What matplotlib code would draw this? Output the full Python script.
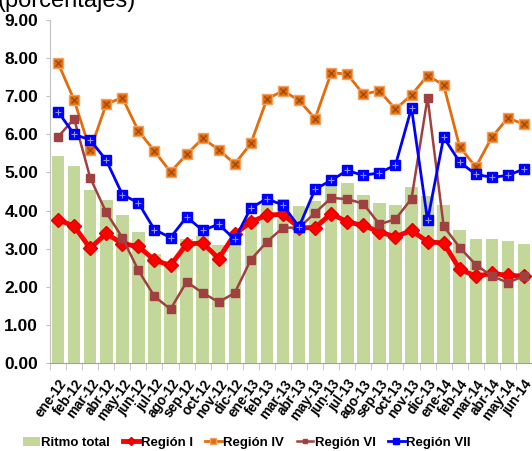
import matplotlib.pyplot as plt
import matplotlib.transforms as mtransforms
import numpy as np

plt.rcParams['font.family'] = ['Liberation Sans', 'DejaVu Sans']

# meses
meses = ['ene-12', 'feb-12', 'mar-12', 'abr-12', 'may-12', 'jun-12', 'jul-12', 'ago-12',
         'sep-12', 'oct-12', 'nov-12', 'dic-12', 'ene-13', 'feb-13', 'mar-13', 'abr-13',
         'may-13', 'jun-13', 'jul-13', 'ago-13', 'sep-13', 'oct-13', 'nov-13', 'dic-13',
         'ene-14', 'feb-14', 'mar-14', 'abr-14', 'may-14', 'jun-14']

ritmo_total = [5.43, 5.16, 4.55, 4.27, 3.88, 3.44, 2.85, 2.60, 3.26, 3.33, 3.09, 3.20,
               3.83, 4.18, 4.31, 4.11, 4.25, 4.75, 4.73, 4.42, 4.20, 4.14, 4.62, 4.37,
               4.14, 3.50, 3.25, 3.26, 3.19, 3.12]
region_1 = [3.76, 3.59, 3.01, 3.40, 3.13, 3.06, 2.70, 2.56, 3.12, 3.15, 2.74, 3.38,
            3.70, 3.88, 3.90, 3.55, 3.55, 3.92, 3.70, 3.61, 3.44, 3.31, 3.48, 3.18,
            3.15, 2.46, 2.28, 2.35, 2.30, 2.28]
region_4 = [7.87, 6.90, 5.58, 6.79, 6.96, 6.09, 5.56, 5.01, 5.47, 5.89, 5.60, 5.22,
            5.76, 6.92, 7.14, 6.89, 6.41, 7.61, 7.58, 7.05, 7.14, 6.66, 7.03, 7.54,
            7.29, 5.67, 5.14, 5.92, 6.43, 6.26]
region_6 = [5.93, 6.41, 4.86, 3.95, 3.29, 2.43, 1.75, 1.41, 2.13, 1.84, 1.60, 1.84,
            2.71, 3.18, 3.55, 3.55, 3.94, 4.33, 4.30, 4.18, 3.64, 3.77, 4.31, 6.96,
            3.59, 3.03, 2.58, 2.28, 2.11, 2.28]
region_7 = [6.59, 6.00, 5.85, 5.32, 4.42, 4.20, 3.50, 3.29, 3.83, 3.48, 3.64, 3.24,
            4.07, 4.31, 4.14, 3.57, 4.56, 4.79, 5.05, 4.92, 4.99, 5.19, 6.69, 3.74,
            5.92, 5.27, 4.95, 4.87, 4.92, 5.09]

x = np.arange(len(meses))

fig = plt.figure(figsize=(5.32, 4.51), dpi=100)
ax = fig.add_axes([0.094, 0.195, 0.906, 0.761])

b = ax.bar(x, ritmo_total, width=0.78, color='#C4D79B', label='Ritmo total', zorder=1)
l1, = ax.plot(x, region_1, color='#FF0000', lw=3.5, marker='D', ms=7.5, mec='#E00000',
              label='Región I', zorder=2)
l4, = ax.plot(x, region_4, color='#E46C0A', lw=2, marker='s', ms=7.5, mec='#F0A060',
              label='Región IV', zorder=3)
ax.plot(x, region_4, ls='none', marker='x', ms=5, mew=1, color='#A04A10', zorder=3.1)
l6, = ax.plot(x, region_6, color='#A04040', lw=1.8, marker='s', ms=6, label='Región VI', zorder=4)
l7, = ax.plot(x, region_7, color='#0000FF', lw=2, marker='s', ms=6.5, label='Región VII', zorder=5)
ax.plot(x, region_7, ls='none', marker='+', ms=5, mew=0.8, color='#9090FF', zorder=5.1)

ax.set_xlim(-0.5, len(meses) - 0.5)
ax.set_ylim(0, 9)
ax.set_yticks(np.arange(0, 9.5, 1))
ax.set_yticklabels(['%.2f' % v for v in np.arange(0, 9.5, 1)], fontsize=12.5, fontweight='bold')
ax.set_xticks(x)
ax.set_xticklabels(meses, rotation=54, ha='right', va='top', rotation_mode='anchor',
                   fontsize=9.8, fontweight='bold')
shift = mtransforms.ScaledTranslation(0.01, 0, fig.dpi_scale_trans)
for lab in ax.get_xticklabels():
    lab.set_transform(lab.get_transform() + shift)
ax.set_xticks(np.arange(-0.5, len(meses), 1), minor=True)
ax.tick_params(axis='x', which='major', length=0, pad=10)
ax.tick_params(axis='x', which='minor', length=5, color='#C0C0C0')
ax.tick_params(axis='y', length=3, color='#C0C0C0', pad=5.5)

for s in ['top', 'right']:
    ax.spines[s].set_visible(False)
ax.spines['left'].set_color('#C0C0C0')
ax.spines['bottom'].set_color('#A0A0A0')

fig.text(-0.004, 1 - 7 / 451, '(porcentajes)', fontsize=17, va='baseline', ha='left')

fig.legend([b, l1, l4, l6, l7], ['Ritmo total', 'Región I', 'Región IV', 'Región VI', 'Región VII'],
           loc='center', bbox_to_anchor=(0.464, 0.018), ncol=5, frameon=False,
           prop={'size': 9.5, 'weight': 'bold'},
           handlelength=1.25, handletextpad=0.12, columnspacing=0.95, borderpad=0,
           markerscale=0.6)

fig.savefig('out.png', dpi=100)
